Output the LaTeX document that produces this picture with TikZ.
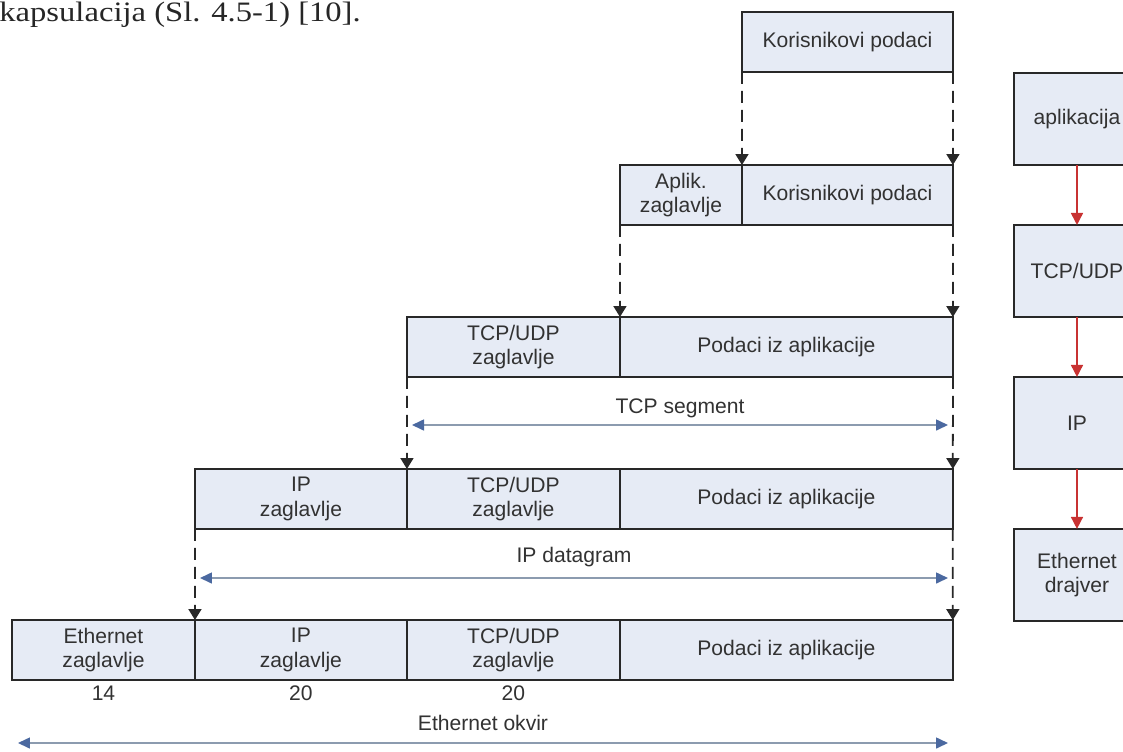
\documentclass[tikz,border=0pt]{standalone}
\usepackage{fontspec}
\setmainfont{Liberation Sans}
\newfontfamily\serifcap{Liberation Serif}
\usetikzlibrary{arrows.meta, positioning}
\definecolor{cellfill}{RGB}{230,235,245}
\definecolor{cellline}{RGB}{40,40,40}
\definecolor{celltext}{RGB}{50,50,50}
\definecolor{dimline}{RGB}{140,155,175}
\definecolor{dimtip}{RGB}{75,105,160}
\definecolor{layerred}{RGB}{200,50,50}
\tikzset{
cell/.style={
    rectangle,
    draw=cellline,
    fill=cellfill,
    line width=0.9pt,
    minimum height=1.2cm,
    inner sep=0pt,
    outer sep=0pt,
    anchor=north west,
    align=center,
    text=celltext,
    font=\fontsize{12}{14}\selectfont
},
layer/.style={cell, minimum width=2.52cm, minimum height=1.84cm},
dashlink/.style={
    -{Triangle[length=2.2mm, width=2.6mm]},
    dash pattern=on 2.4mm off 1.4mm,
    line width=1pt,
    draw=cellline
},
dimarrow/.style={
    {Triangle[length=2.4mm, width=2.2mm, color=dimtip]}-{Triangle[length=2.4mm, width=2.2mm, color=dimtip]},
    draw=dimline,
    line width=0.9pt
},
bytes/.style={text=celltext, font=\fontsize{12}{14}\selectfont}
}

\begin{document}
\begin{tikzpicture}[
        x=0.02cm, y=-0.02cm,
        >={Triangle[length=2.4mm, width=2.4mm]},
        node distance=1.2cm
    ]
    \clip (0,0) rectangle (1123,751);

    % text above the figure
    \node[anchor=base west, inner sep=0pt, text=black!85, xscale=1.16, transform shape,
          font=\serifcap\fontsize{16}{18}\selectfont] (capt) at (-1,21) {kapsulacija (Sl. 4.5-1) [10].};

    % node placement
    \node[cell, minimum width=4.22cm] (u1) at (742,12) {Korisnikovi podaci};

    \node[cell, minimum width=2.44cm] (a2) at (620,165) {Aplik.\\zaglavlje};
    \node[cell, minimum width=4.22cm, right=0pt of a2] (u2) {Korisnikovi podaci};

    \node[cell, minimum width=4.26cm] (t3) at (407,317) {TCP/UDP\\zaglavlje};
    \node[cell, minimum width=6.66cm, right=0pt of t3] (p3) {Podaci iz aplikacije};

    \node[cell, minimum width=4.24cm] (i4) at (195,469) {IP\\zaglavlje};
    \node[cell, minimum width=4.26cm, right=0pt of i4] (t4) {TCP/UDP\\zaglavlje};
    \node[cell, minimum width=6.66cm, right=0pt of t4] (p4) {Podaci iz aplikacije};

    \node[cell, minimum width=3.66cm] (e5) at (12,620) {Ethernet\\zaglavlje};
    \node[cell, minimum width=4.24cm, right=0pt of e5] (i5) {IP\\zaglavlje};
    \node[cell, minimum width=4.26cm, right=0pt of i5] (t5) {TCP/UDP\\zaglavlje};
    \node[cell, minimum width=6.66cm, right=0pt of t5] (p5) {Podaci iz aplikacije};

    \node[bytes, below=0pt of e5] (n14) {14};
    \node[bytes, below=0pt of i5] (n20a) {20};
    \node[bytes, below=0pt of t5] (n20b) {20};

    % layers on the right
    \node[layer] (ap) at (1014,73) {aplikacija};
    \node[layer, below=of ap] (tu) {TCP/UDP};
    \node[layer, below=of tu] (ip) {IP};
    \node[layer, below=of ip] (ed) {Ethernet\\drajver};

    \coordinate (tcpL) at (412,425);
    \coordinate (tcpR) at (948,425);
    \coordinate (ipL) at (200,578);
    \coordinate (ipR) at (948,578);
    \coordinate (ethL) at (18,743);
    \coordinate (ethR) at (948,743);

    % edges
    \draw[dashlink] (u1.south west) -- (u2.north west);
    \draw[dashlink] (u1.south east) -- (u2.north east);
    \draw[dashlink] (a2.south west) -- (p3.north west);
    \draw[dashlink] (u2.south east) -- (p3.north east);
    \draw[dashlink] (t3.south west) -- (t4.north west);
    \draw[dashlink] (p3.south east) -- (p4.north east);
    \draw[dashlink] (i4.south west) -- (i5.north west);
    \draw[dashlink] (p4.south east) -- (p5.north east);

    \draw[dimarrow] (tcpL) -- node[bytes, midway, above] {TCP segment} (tcpR);
    \draw[dimarrow] (ipL) -- node[bytes, midway, above=2.5pt] {IP datagram} (ipR);
    \draw[dimarrow] (ethL) -- node[bytes, midway, above=3pt] {Ethernet okvir} (ethR);

    \draw[->, layerred, line width=0.9pt] (ap) -- (tu);
    \draw[->, layerred, line width=0.9pt] (tu) -- (ip);
    \draw[->, layerred, line width=0.9pt] (ip) -- (ed);

\end{tikzpicture}
\end{document}
